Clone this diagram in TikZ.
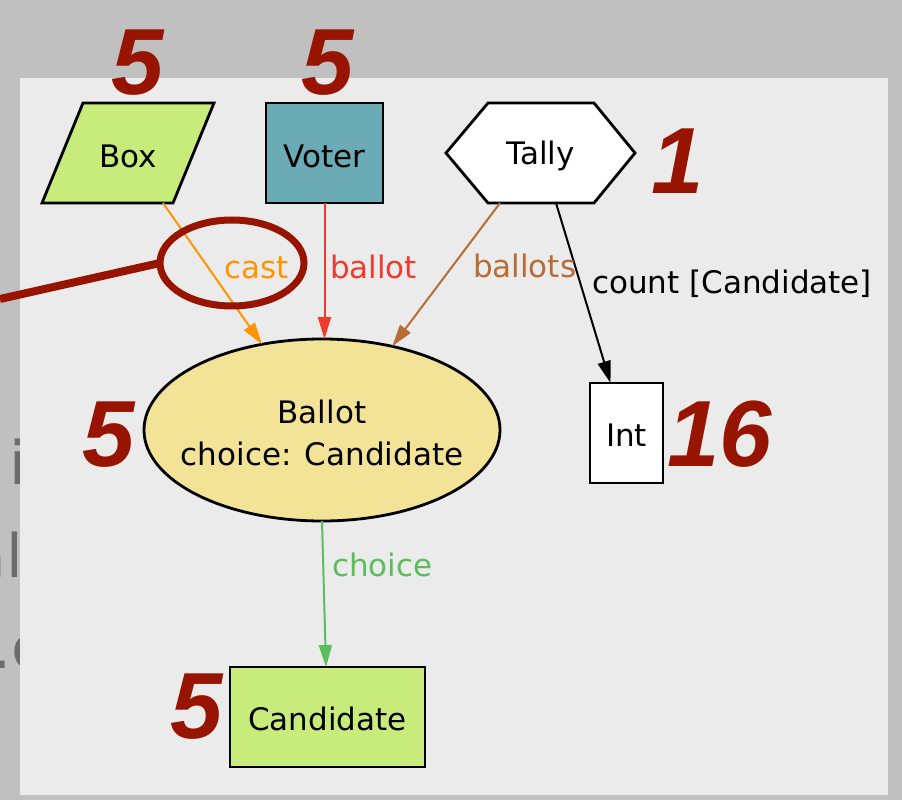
\documentclass[tikz,border=0pt]{standalone}
\usepackage{fontspec}
\setmainfont{DejaVu Sans}
\newfontfamily\tallyfont{Liberation Sans}
\usetikzlibrary{shapes.geometric,arrows.meta}

\definecolor{outergray}{HTML}{C0C0C0}
\definecolor{panelgray}{HTML}{EBEBEB}
\definecolor{boxgreen}{HTML}{C8EC7C}
\definecolor{voterteal}{HTML}{6AABB5}
\definecolor{ballotyellow}{HTML}{F3E397}
\definecolor{castorange}{HTML}{FF9400}
\definecolor{ballotred}{HTML}{EE3B2E}
\definecolor{ballotsbrown}{HTML}{B86C35}
\definecolor{choicegreen}{HTML}{5CBD5C}
\definecolor{markred}{HTML}{961400}
\definecolor{fadedtext}{HTML}{6C6C6C}

\begin{document}
\begin{tikzpicture}[x=1pt,y=-1pt,
  every node/.style={inner sep=0pt, outer sep=0pt},
  labeltext/.style={font=\fontsize{31}{42}\selectfont},
  classbox/.style={draw=black, line width=2.8pt, rectangle, labeltext},
  outline/.style={draw=black, line width=2.8pt, line join=miter},
  link/.style={line width=2pt, -{Triangle[length=22pt,width=13pt]}},
  edgelabel/.style={labeltext, anchor=base west},
  countmark/.style={text=markred, anchor=base,
    font=\tallyfont\bfseries\itshape\fontsize{94}{94}\selectfont},
  fadedline/.style={text=fadedtext, font=\fontsize{60}{60}\selectfont}]

\useasboundingbox (0,0) rectangle (902,800);
\clip (0,0) rectangle (902,800);

% page background and partly hidden text behind the panel
\fill[outergray] (0,0) rectangle (902,800);
\node[fadedline, anchor=base east] (fadeA) at (26,484) {i};
\node[fadedline, anchor=base east] (fadeB) at (23,577) {al};
\node[fadedline, anchor=base west] (fadeC) at (-8,668) {.c};

% diagram panel
\fill[panelgray] (20,78) rectangle (888,795);

% Box: parallelogram
\node[labeltext, minimum width=172pt, minimum height=100pt] (box) at (128,153) {};
\filldraw[outline, fill=boxgreen]
  (83,103) -- (214,103) -- (173,203) -- (42,203) -- cycle;
\node[labeltext] (boxtext) at (128,156) {Box};

% Voter
\node[classbox, fill=voterteal, minimum width=117pt, minimum height=100pt]
  (voter) at (324.5,153) {};
\node[labeltext] (votertext) at (324.5,156) {Voter};

% Tally: hexagon
\node[labeltext, minimum width=189pt, minimum height=100pt] (tally) at (540.5,153) {};
\filldraw[outline, fill=white]
  (446,153) -- (488,103) -- (594,103) -- (635,153) -- (594,203) -- (488,203) -- cycle;
\node[labeltext] (tallytext) at (540.5,156) {Tally};

% Ballot
\node[ellipse, draw=black, line width=2.8pt, fill=ballotyellow,
  minimum width=356pt, minimum height=182pt] (ballot) at (322,430) {};
\node[labeltext, align=center] (ballottext) at (322,433) {Ballot\\choice: Candidate};

% Int
\node[classbox, fill=white, minimum width=73pt, minimum height=100pt]
  (intnode) at (626.5,433) {};
\node[labeltext] (inttext) at (626.5,435) {Int};

% Candidate
\node[classbox, fill=boxgreen, minimum width=195pt, minimum height=100pt]
  (candidate) at (327.5,717) {};
\node[labeltext] (candidatetext) at (327.5,719) {Candidate};

% connectors
\draw[link, castorange] ([xshift=35pt]box.south) -- (ballot.125.5);
\draw[link, ballotred] (voter.south) -- (ballot.north -| voter.south);
\draw[link, ballotsbrown] ([xshift=-40.5pt]tally.south) -- (ballot.50.7);
\draw[link, black] ([xshift=15.5pt]tally.south) -- ([xshift=-16pt]intnode.north);
\draw[link, choicegreen] (ballot.south) -- ([xshift=-1.5pt]candidate.north);

% connector labels
\node[edgelabel, text=castorange] (castlabel) at (224,278) {cast};
\node[edgelabel, text=ballotred] (ballotlabel) at (330,278) {ballot};
\node[edgelabel, text=ballotsbrown] (ballotslabel) at (473,277) {ballots};
\node[edgelabel, text=black] (countlabel) at (592,293) {count [Candidate]};
\node[edgelabel, text=choicegreen] (choicelabel) at (332,576) {choice};

% instance counts
\node[countmark] (nbox) at (138,95) {5};
\node[countmark] (nvoter) at (328,95) {5};
\node[countmark] (ntally) at (678,193) {1};
\node[countmark] (nint) at (720,466) {16};
\node[countmark] (nballot) at (109,466) {5};
\node[countmark] (ncandidate) at (197,738) {5};

% highlight ring with pointer
\node[ellipse, draw=markred, line width=7pt, minimum width=144pt, minimum height=86pt]
  (castring) at (232,263) {};
\coordinate (pointerstart) at (0,299);
\draw[markred, line width=8pt] (pointerstart) -- (castring.west);
\end{tikzpicture}
\end{document}
